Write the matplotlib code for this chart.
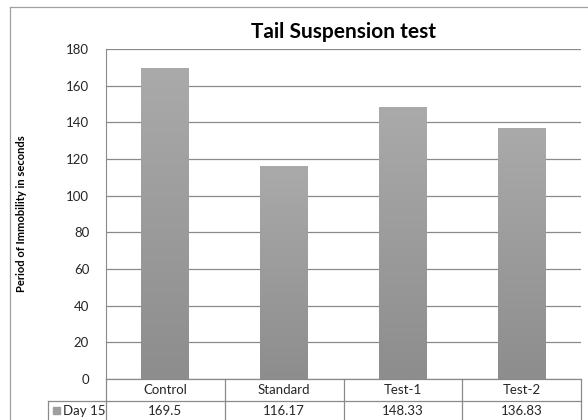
import numpy as np
import matplotlib.pyplot as plt
from matplotlib.patches import Rectangle
from matplotlib.lines import Line2D

plt.rcParams['font.family'] = ['Lato', 'DejaVu Sans']

categories = ['Control', 'Standard', 'Test-1', 'Test-2']
values = [169.5, 116.17, 148.33, 136.83]
value_labels = ['169.5', '116.17', '148.33', '136.83']
series_name = 'Day 15'
yticks = [0, 20, 40, 60, 80, 100, 120, 140, 160, 180]

fig = plt.figure(figsize=(5.88, 4.2), dpi=100)
ax = fig.add_axes([0.180, 0.0976, 0.808, 0.7855])

x = np.arange(len(categories))
bars = ax.bar(x, values, width=0.40, color='#9e9e9e', zorder=3)

# vertical gradient inside each bar, light at top, darker at bottom
grad = np.linspace(0, 1, 256).reshape(-1, 1)
cmap = plt.matplotlib.colors.LinearSegmentedColormap.from_list('g', ['#8d8d8d', '#aaaaaa'])
for b in bars:
    bx, by, bw, bh = b.get_x(), b.get_y(), b.get_width(), b.get_height()
    im = ax.imshow(grad, extent=[bx, bx + bw, by, by + bh], aspect='auto',
                   cmap=cmap, origin='lower', zorder=3)
    im.set_clip_path(b)

ax.set_xlim(-0.5, len(categories) - 0.5)
ax.set_ylim(0, 180)
ax.set_yticks(yticks)
ax.tick_params(axis='y', length=0, labelsize=9.5, pad=12, colors='#262626')
ax.set_xticks([])
ax.yaxis.grid(True, color='#8a8a8a', linewidth=0.9, zorder=0)
ax.set_axisbelow(True)
for s in ['top', 'right', 'bottom']:
    ax.spines[s].set_visible(False)
ax.spines['left'].set_color('#8a8a8a')

ax.set_ylabel('Period of Immobility in seconds', fontsize=8, fontweight='bold')
ax.yaxis.set_label_coords(-0.165, 0.5)
ax.set_title('Tail Suspension test', fontsize=15, fontweight='bold', pad=8)

# data table drawn under the axis in figure pixel coordinates
W, H = 588, 420
def fx(px):
    return px / W
def fy(py):
    return 1 - py / H

lc = '#8a8a8a'
col_edges = [106, 224.75, 343.5, 462.25, 581]
y_axis, y_mid, y_bot = 379, 401, 425
fig.add_artist(Line2D([fx(106), fx(581)], [fy(y_axis), fy(y_axis)], color=lc, lw=0.9))
fig.add_artist(Line2D([fx(48), fx(581)], [fy(y_mid), fy(y_mid)], color=lc, lw=0.9))
for ce in col_edges:
    fig.add_artist(Line2D([fx(ce), fx(ce)], [fy(y_axis), fy(y_bot)], color=lc, lw=0.9))
fig.add_artist(Line2D([fx(48), fx(48)], [fy(y_mid), fy(y_bot)], color=lc, lw=0.9))

for i, (c, v) in enumerate(zip(categories, value_labels)):
    cx = (col_edges[i] + col_edges[i + 1]) / 2
    fig.text(fx(cx), fy(390), c, ha='center', va='center', fontsize=9.5, color='#262626')
    fig.text(fx(cx), fy(411), v, ha='center', va='center', fontsize=9.5, color='#262626')

fig.add_artist(Rectangle((fx(53), fy(414)), 7 / W, 7 / H, color='#9e9e9e',
                         transform=fig.transFigure))
fig.text(fx(63), fy(411), series_name, ha='left', va='center', fontsize=9.5, color='#262626')

# outer chart border
fig.add_artist(Line2D([fx(10), fx(10)], [fy(7), 0], color='#a0a0a0', lw=0.9))
fig.add_artist(Line2D([fx(10), 1], [fy(7), fy(7)], color='#a0a0a0', lw=0.9))

fig.savefig('out.png', dpi=100)
